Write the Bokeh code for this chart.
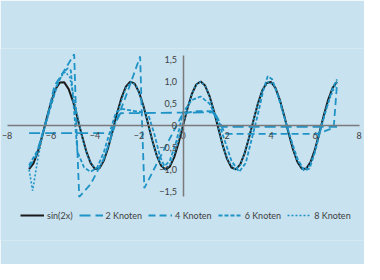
import numpy as np
from bokeh.plotting import figure
from bokeh.models import LinearAxis, Legend, LegendItem, Range1d, FixedTicker, CustomJSTickFormatter
from bokeh.embed import file_html
from bokeh.resources import INLINE

# ---- data ----
x_sin = [round(-7 + 0.2 * i, 1) for i in range(71)]
y_sin = [-0.991, -0.859, -0.592, -0.232, 0.166, 0.537, 0.823, 0.979, 0.981, 0.828,
         0.544, 0.174, -0.223, -0.585, -0.855, -0.989, -0.968, -0.794, -0.494, -0.117,
         0.279, 0.631, 0.883, 0.996, 0.952, 0.757, 0.443, 0.058, -0.335, -0.675,
         -0.909, -1.0, -0.932, -0.717, -0.389,
         0.0, 0.389, 0.717, 0.932, 1.0, 0.909, 0.675, 0.335, -0.058, -0.443,
         -0.757, -0.952, -0.996, -0.883, -0.631, -0.279, 0.117, 0.494, 0.794, 0.968,
         0.989, 0.855, 0.585, 0.223, -0.174, -0.544, -0.828, -0.981, -0.979, -0.823,
         -0.537, -0.166, 0.232, 0.592, 0.859, 0.991]

x_k2 = [-7.0, -3.3, -3.05, -2.85, 1.35, 1.55, 1.75, 7.0]
y_k2 = [-0.17, -0.17, 0.08, 0.28, 0.3, 0.15, -0.03, -0.03]

x_k4 = [-7.0, -6.7, -6.4, -6.1, -5.85, -5.4, -4.95, -4.85, -4.72, -4.2, -3.6, -3.1, -2.5,
        -1.95, -1.86, -1.76, -0.9, 0.0, 0.7, 1.4, 1.7, 1.9, 6.1, 6.85, 7.0]
y_k4 = [-0.95, -0.7, -0.2, 0.35, 0.9, 1.25, 1.62, 0.0, -1.62, -1.33, -0.75, 0.0, 0.8,
        1.57, 0.0, -1.42, -0.58, 0.28, 0.33, 0.32, 0.05, -0.19, -0.19, -0.05, 0.95]

x_k6 = [-7.0, -6.6, -6.3, -6.0, -5.7, -5.45, -5.25, -5.1, -4.95, -4.8, -4.5, -4.2, -3.9,
        -3.6, -3.3, -3.05, -2.8, -2.2, -1.6, -1.3, -1.05, -0.85, -0.6, -0.3, 0.0, 0.4,
        0.8, 1.2, 1.6, 1.9, 2.2, 2.55, 2.85, 3.1, 3.4, 3.65, 3.85, 4.05, 4.3, 4.6, 4.9,
        5.2, 5.5, 5.75, 6.0, 6.25, 6.5, 6.8, 7.0]
y_k6 = [-0.9, -0.55, -0.05, 0.45, 0.95, 1.2, 1.3, 1.25, 0.3, -0.6, -0.95, -1.05, -0.95,
        -0.6, -0.1, 0.3, 0.38, 0.33, 0.28, -0.2, -0.7, -0.92, -0.8, -0.35, 0.3, 0.58,
        0.66, 0.5, 0.1, -0.35, -0.8, -1.05, -0.85, -0.35, 0.25, 0.8, 1.12, 1.05, 0.7,
        0.2, -0.3, -0.75, -1.02, -0.98, -0.6, -0.1, 0.35, 0.85, 1.05]

x_k8 = [-7.0, -6.84, -6.6, -6.4, -6.2, -6.0, -5.8, -5.6, -5.35, -5.15, -4.95, -4.75,
        -4.55, -4.3, -4.0, -3.8, -3.6, -3.35, -3.1, -2.85, -2.6, -2.35, -2.1, -1.85,
        -1.6, -1.35, -1.1, -0.8, -0.55, -0.3, 0.0, 0.3, 0.55, 0.8, 1.05, 1.3, 1.55,
        1.8, 2.05, 2.35, 2.6, 2.85, 3.1, 3.35, 3.6, 3.9, 4.15, 4.4, 4.65, 4.9, 5.15,
        5.45, 5.7, 5.95, 6.2, 6.45, 6.7, 7.0]
y_k8 = [-1.0, -1.48, -0.75, -0.25, 0.1, 0.52, 0.85, 1.08, 1.22, 1.1, 0.6, 0.1,
        -0.35, -0.75, -0.98, -0.95, -0.75, -0.4, 0.02, 0.5, 0.85, 1.0, 0.88, 0.5,
        0.05, -0.45, -0.8, -1.0, -0.85, -0.5, 0.05, 0.55, 0.9, 1.0, 0.87, 0.5, 0.05,
        -0.45, -0.8, -1.0, -0.9, -0.55, -0.1, 0.4, 0.8, 1.0, 0.9, 0.6, 0.1, -0.35,
        -0.75, -1.0, -0.95, -0.65, -0.15, 0.3, 0.65, 1.0]

series_labels = ["sin(2x)", "2 Knoten", "4 Knoten", "6 Knoten", "8 Knoten"]

x_ticks = [-8, -6, -4, -2, 0, 2, 4, 6, 8]
x_tick_labels = ["\u22128", "\u22126", "\u22124", "\u22122", "0", "2", "4", "6", "8"]
y_ticks = [-1.5, -1.0, -0.5, 0.0, 0.5, 1.0, 1.5]
y_tick_labels = ["\u22121,5", "\u22121,0", "\u22120,5", "0", "0,5", "1,0", "1,5"]

BG = "#c8e2f0"
BLUE = "#1f93c6"
FONT = "Lato"
TXT = "#404040"

p = figure(width=364, height=264, x_range=Range1d(-8.3, 8.25), y_range=Range1d(-2.61, 1.75),
           output_backend="svg", toolbar_location=None,
           x_axis_location=None, y_axis_location=None,
           min_border_left=0, min_border_right=0, min_border_top=48, min_border_bottom=24,
           background_fill_color=BG, border_fill_color=BG, outline_line_color=None)
p.grid.visible = False

fmt_code = ("const i = tvals.findIndex(t => Math.abs(t - tick) < 1e-9);"
            "return i >= 0 ? tlabs[i] : '';")

xaxis = LinearAxis(fixed_location=0, bounds=(-8, 8),
                   ticker=FixedTicker(ticks=x_ticks),
                   formatter=CustomJSTickFormatter(args=dict(tvals=x_ticks, tlabs=x_tick_labels), code=fmt_code),
                   axis_line_color="#7a7a7a", axis_line_width=1.5,
                   major_tick_line_color=None, minor_tick_line_color=None,
                   major_tick_out=0, major_tick_in=0,
                   major_label_standoff=6, major_label_text_font_size="9px",
                   major_label_text_font=FONT, major_label_text_color=TXT)
p.add_layout(xaxis, "below")

yaxis = LinearAxis(fixed_location=0, bounds=(-1.6, 1.6),
                   ticker=FixedTicker(ticks=y_ticks),
                   formatter=CustomJSTickFormatter(args=dict(tvals=y_ticks, tlabs=y_tick_labels), code=fmt_code),
                   axis_line_color="#7a7a7a", axis_line_width=1.5,
                   major_tick_line_color=None, minor_tick_line_color=None,
                   major_tick_out=0, major_tick_in=0,
                   major_label_standoff=6, major_label_text_font_size="9px",
                   major_label_text_font=FONT, major_label_text_color=TXT)
p.add_layout(yaxis, "left")

r0 = p.line(x_sin, y_sin, line_color="#1a1a1a", line_width=2)
r1 = p.line(x_k2, y_k2, line_color=BLUE, line_width=1.8, line_dash="11 5")
r2 = p.line(x_k4, y_k4, line_color=BLUE, line_width=1.8, line_dash="7 4")
r3 = p.line(x_k6, y_k6, line_color=BLUE, line_width=1.8, line_dash="4 2")
r4 = p.line(x_k8, y_k8, line_color=BLUE, line_width=1.6, line_dash="2 2")

legend = Legend(items=[LegendItem(label=lab, renderers=[r])
                       for lab, r in zip(series_labels, [r0, r1, r2, r3, r4])],
                orientation="horizontal", location=(20, 19),
                background_fill_alpha=0, border_line_color=None,
                glyph_width=24, glyph_height=12, label_height=12,
                label_standoff=3, spacing=6, padding=0, margin=0,
                label_text_font_size="9px", label_text_font=FONT, label_text_color=TXT)
p.add_layout(legend)

open("out.html", "w").write(file_html(p, INLINE))
